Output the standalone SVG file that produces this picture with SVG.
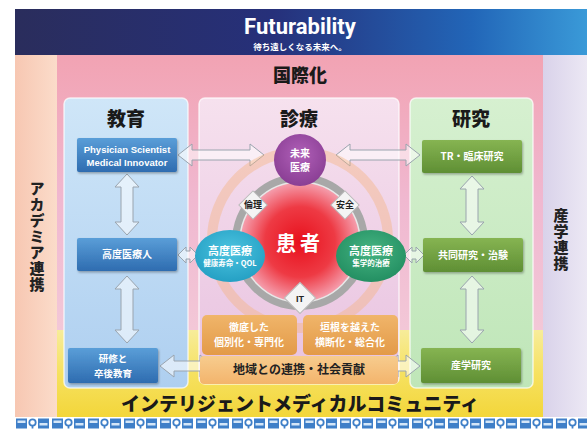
<svg xmlns="http://www.w3.org/2000/svg" width="587" height="430" viewBox="0 0 587 430">
<defs>
<linearGradient id="hdr" x1="0" y1="0" x2="1" y2="0"><stop offset="0" stop-color="#2a2d5c"/><stop offset="0.45" stop-color="#26307a"/><stop offset="0.8" stop-color="#2266b8"/><stop offset="1" stop-color="#3a9ad8"/></linearGradient>
<linearGradient id="pinkbg" x1="0" y1="0" x2="0" y2="1"><stop offset="0" stop-color="#f2a3b3"/><stop offset="0.5" stop-color="#f0b8d0"/><stop offset="1" stop-color="#f3c9d8"/></linearGradient>
<linearGradient id="yel" x1="0" y1="0" x2="0" y2="1"><stop offset="0" stop-color="#f7ec9a"/><stop offset="0.5" stop-color="#f6e160"/><stop offset="1" stop-color="#f3d63a"/></linearGradient>
<linearGradient id="lstrip" x1="0" y1="0" x2="1" y2="0"><stop offset="0" stop-color="#f7c7b2"/><stop offset="1" stop-color="#fbdcca"/></linearGradient>
<linearGradient id="rstrip" x1="0" y1="0" x2="1" y2="0"><stop offset="0" stop-color="#d9d2ea"/><stop offset="1" stop-color="#ece8f4"/></linearGradient>
<linearGradient id="edu" x1="0" y1="0" x2="0" y2="1"><stop offset="0" stop-color="#cfe6f8"/><stop offset="1" stop-color="#aecff0"/></linearGradient>
<linearGradient id="med" x1="0" y1="0" x2="0" y2="1"><stop offset="0" stop-color="#f6e1ee"/><stop offset="1" stop-color="#e8c2e0"/></linearGradient>
<linearGradient id="res" x1="0" y1="0" x2="0" y2="1"><stop offset="0" stop-color="#d6f0d0"/><stop offset="1" stop-color="#bfe6b8"/></linearGradient>
<linearGradient id="bbox" x1="0" y1="0" x2="0" y2="1"><stop offset="0" stop-color="#5a9ed8"/><stop offset="1" stop-color="#2e6cb0"/></linearGradient>
<linearGradient id="gbox" x1="0" y1="0" x2="0" y2="1"><stop offset="0" stop-color="#86b452"/><stop offset="1" stop-color="#5f8f34"/></linearGradient>
<linearGradient id="obox" x1="0" y1="0" x2="0" y2="1"><stop offset="0" stop-color="#f0b56a"/><stop offset="1" stop-color="#e39a48"/></linearGradient>
<linearGradient id="band" x1="0" y1="0" x2="0" y2="1"><stop offset="0" stop-color="#f7cc8e"/><stop offset="1" stop-color="#f3b46c"/></linearGradient>
<radialGradient id="red" cx="0.5" cy="0.5" r="0.5"><stop offset="0" stop-color="#e8101c"/><stop offset="0.55" stop-color="#ee3a44"/><stop offset="1" stop-color="#f6b0c0"/></radialGradient>
<radialGradient id="pur" cx="0.5" cy="0.4" r="0.6"><stop offset="0" stop-color="#b060b8"/><stop offset="1" stop-color="#8a3e94"/></radialGradient>
<radialGradient id="cya" cx="0.5" cy="0.4" r="0.6"><stop offset="0" stop-color="#4cc4e0"/><stop offset="1" stop-color="#25a0c4"/></radialGradient>
<radialGradient id="grn" cx="0.5" cy="0.4" r="0.6"><stop offset="0" stop-color="#46b482"/><stop offset="1" stop-color="#238f62"/></radialGradient>
<pattern id="icons" x="15" y="417" width="36" height="13" patternUnits="userSpaceOnUse">
<rect x="1" y="1.5" width="11" height="10" fill="#3f7fc8"/><rect x="2.5" y="3.5" width="8" height="2.5" fill="#d4e6f8"/>
<circle cx="17.5" cy="5.5" r="3.2" fill="none" stroke="#3f7fc8" stroke-width="1.8"/><rect x="16.6" y="8" width="1.8" height="3.5" fill="#3f7fc8"/>
<rect x="23" y="1.5" width="11" height="10" fill="#3f7fc8"/><rect x="24.5" y="6" width="8" height="2.5" fill="#d4e6f8"/>
</pattern>
<filter id="sh" x="-10%" y="-10%" width="130%" height="140%"><feDropShadow dx="1" dy="1.5" stdDeviation="1" flood-color="#000" flood-opacity="0.3"/></filter>
</defs>
<style>
.ttl{font-family:"Noto Sans CJK JP",sans-serif;font-weight:900;fill:#1a1a1a;text-anchor:middle}
.wt{font-family:"Noto Sans CJK JP",sans-serif;font-weight:700;fill:#ffffff;text-anchor:middle}
.bk{font-family:"Noto Sans CJK JP",sans-serif;font-weight:700;fill:#222;text-anchor:middle}
.vt{font-family:"Noto Sans CJK JP",sans-serif;font-weight:900;fill:#222;text-anchor:middle;writing-mode:vertical-rl;letter-spacing:1px}
.arr{fill:#ffffff;fill-opacity:0.55;stroke:#9aa4ae;stroke-width:1}
.panel{stroke:#ffffff;stroke-opacity:0.7;stroke-width:1.5}
.en{font-family:"Liberation Sans",Arial,sans-serif;font-weight:700;fill:#ffffff;text-anchor:middle}
</style>

<!-- background -->
<rect x="0" y="0" width="587" height="430" fill="#ffffff"/>
<g id="left-strip"><rect x="15" y="55" width="42" height="362" fill="url(#lstrip)"/>
<text class="vt" font-size="15" x="37" y="237">アカデミア連携</text></g>
<g id="right-strip"><rect x="543" y="55" width="44" height="362" fill="url(#rstrip)"/>
<text class="vt" font-size="15" x="561" y="240">産学連携</text></g>
<g id="intl"><rect x="57" y="55" width="486" height="290" fill="url(#pinkbg)"/>
<text class="ttl" font-size="18" x="300" y="82">国際化</text></g>
<g id="community"><rect x="57" y="330" width="486" height="87" fill="url(#yel)"/>
<text class="ttl" font-size="19" x="300" y="411">インテリジェントメディカルコミュニティ</text></g>

<!-- header -->
<g id="header"><rect x="15" y="9" width="572" height="46" fill="url(#hdr)"/>
<text x="300" y="34" font-family="Roboto,'Open Sans',sans-serif" font-weight="700" font-size="22" fill="#ffffff" text-anchor="middle">Futurability</text>
<text class="wt" font-size="8.5" x="300" y="50">待ち遠しくなる未来へ。</text></g>

<!-- panels -->
<g id="edu-panel"><rect class="panel" x="64" y="98" width="124" height="290" rx="6" fill="url(#edu)"/>
<text class="ttl" font-size="19" x="126" y="126">教育</text></g>
<g id="med-panel"><rect class="panel" x="199" y="98" width="200" height="286" rx="6" fill="url(#med)"/>
<text class="ttl" font-size="19" x="299" y="126">診療</text></g>
<g id="res-panel"><rect class="panel" x="410" y="98" width="123" height="290" rx="6" fill="url(#res)"/>
<text class="ttl" font-size="19" x="471" y="126">研究</text></g>

<!-- connectors -->
<g id="connectors">
<polygon class="arr" points="178,155 192,144 192,150 250,150 250,144 264,155 250,166 250,160 192,160 192,166"/>
<polygon class="arr" points="336,155 350,144 350,150 406,150 406,144 420,155 406,166 406,160 350,160 350,166"/>
<polygon class="arr" points="127,174 139,187 133,187 133,222 139,222 127,235 115,222 121,222 121,187 115,187"/>
<polygon class="arr" points="127,276 139,289 133,289 133,330 139,330 127,343 115,330 121,330 121,289 115,289"/>
<polygon class="arr" points="472,176 484,189 478,189 478,222 484,222 472,235 460,222 466,222 466,189 460,189"/>
<polygon class="arr" points="472,276 484,289 478,289 478,330 484,330 472,343 460,330 466,330 466,289 460,289"/>
<polygon class="arr" points="178,255 186,247 186,251 190,251 190,247 198,255 190,263 190,259 186,259 186,263"/>
<polygon class="arr" points="404,255 412,247 412,251 416,251 416,247 424,255 416,263 416,259 412,259 412,263"/>
<polygon class="arr" points="160,366 174,355 174,361 200,361 200,355 214,366 200,377 200,371 174,371 174,377"/>
<polygon class="arr" points="384,366 398,355 398,361 406,361 406,355 420,366 406,377 406,371 398,371 398,377"/>
</g>

<!-- edu boxes -->
<g id="physician"><rect x="77" y="138" width="100" height="34" rx="2" fill="url(#bbox)" filter="url(#sh)"/>
<text class="en" font-size="9.5" x="127" y="153">Physician Scientist</text>
<text class="en" font-size="9.5" x="127" y="166">Medical Innovator</text></g>
<g id="kodo-iryojin"><rect x="77" y="238" width="100" height="33" rx="2" fill="url(#bbox)" filter="url(#sh)"/>
<text class="wt" font-size="10" x="127" y="258">高度医療人</text></g>
<g id="kenshu"><rect x="68" y="348" width="90" height="35" rx="2" fill="url(#bbox)" filter="url(#sh)"/>
<text class="wt" font-size="9.5" x="113" y="362">研修と</text>
<text class="wt" font-size="9.5" x="113" y="377">卒後教育</text></g>

<!-- research boxes -->
<g id="tr"><rect x="422" y="140" width="100" height="33" rx="2" fill="url(#gbox)" filter="url(#sh)"/>
<text class="wt" font-size="10" x="472" y="160">TR・臨床研究</text></g>
<g id="kyodo"><rect x="423" y="238" width="100" height="34" rx="2" fill="url(#gbox)" filter="url(#sh)"/>
<text class="wt" font-size="10" x="473" y="259">共同研究・治験</text></g>
<g id="sangaku"><rect x="421" y="348" width="100" height="35" rx="2" fill="url(#gbox)" filter="url(#sh)"/>
<text class="wt" font-size="10" x="471" y="369">産学研究</text></g>

<!-- center -->
<g id="ring"><circle cx="300" cy="240" r="88" fill="none" stroke="#f6b27a" stroke-opacity="0.4" stroke-width="10"/>
<circle cx="300" cy="242" r="64" fill="url(#red)" stroke="#a8a8a8" stroke-width="8"/>
<circle cx="300" cy="242" r="60" fill="none" stroke="#e8e8e8" stroke-width="1.5"/></g>
<g id="patient"><text class="wt" font-size="20" x="300" y="251" letter-spacing="4">患者</text></g>
<g id="ethics"><rect x="243" y="195" width="20" height="20" transform="rotate(45 253 205)" fill="#f4f4f4" stroke="#bbb"/>
<text class="bk" font-size="9" x="253" y="208">倫理</text></g>
<g id="safety"><rect x="335" y="195" width="20" height="20" transform="rotate(45 345 205)" fill="#f4f4f4" stroke="#bbb"/>
<text class="bk" font-size="9" x="345" y="208">安全</text></g>
<g id="it"><rect x="289" y="287" width="22" height="22" transform="rotate(45 300 298)" fill="#f4f4f4" stroke="#bbb"/>
<text class="bk" font-size="9" x="300" y="302" style="font-family:'Liberation Sans',sans-serif">IT</text></g>
<g id="mirai"><circle cx="300" cy="160" r="26" fill="url(#pur)"/>
<text class="wt" font-size="10" x="300" y="157">未来</text>
<text class="wt" font-size="10" x="300" y="171">医療</text></g>
<g id="kodo-left"><ellipse cx="230" cy="256" rx="35" ry="26" fill="url(#cya)"/>
<text class="wt" font-size="11" x="230" y="255">高度医療</text>
<text class="wt" font-size="7.5" x="230" y="266">健康寿命・QOL</text></g>
<g id="kodo-right"><ellipse cx="371" cy="256" rx="35" ry="26" fill="url(#grn)"/>
<text class="wt" font-size="11" x="371" y="255">高度医療</text>
<text class="wt" font-size="7.5" x="371" y="266">集学的治療</text></g>

<g id="tettei"><rect x="202" y="315" width="95" height="40" rx="5" fill="url(#obox)"/>
<text class="wt" font-size="10" x="249" y="331">徹底した</text>
<text class="wt" font-size="10" x="249" y="346">個別化・専門化</text></g>
<g id="kakine"><rect x="303" y="315" width="95" height="40" rx="5" fill="url(#obox)"/>
<text class="wt" font-size="10" x="350" y="331">垣根を越えた</text>
<text class="wt" font-size="10" x="350" y="346">横断化・総合化</text></g>
<g id="chiiki"><rect x="200" y="356" width="198" height="28" rx="4" fill="url(#band)"/>
<text class="bk" font-size="12" x="299" y="374">地域との連携・社会貢献</text></g>

<!-- icon strip -->
<g id="icon-strip"><rect x="15" y="417" width="572" height="13" fill="url(#icons)"/></g>
</svg>
